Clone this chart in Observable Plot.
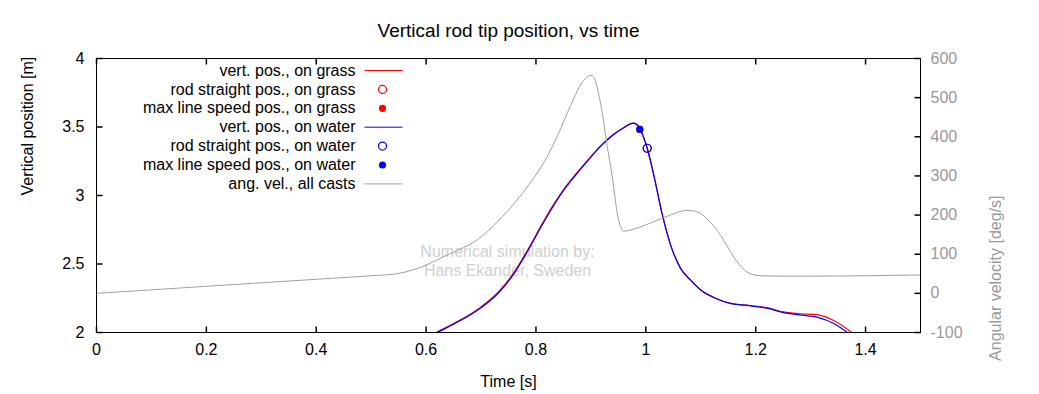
<!DOCTYPE html>
<html><head><meta charset="utf-8">
<script src="https://cdn.jsdelivr.net/npm/d3@7"></script>
<script src="https://cdn.jsdelivr.net/npm/@observablehq/plot@0.6"></script>
<style>body{margin:0;background:#fff} svg{display:block}</style>
</head><body><div id="chart"></div>
<script>
// ---- data ----
const timeWater = [0.610, 0.620, 0.650, 0.700, 0.732, 0.760, 0.790, 0.810, 0.832, 0.850, 0.869, 0.890, 0.918, 0.940, 0.960, 0.977, 0.985, 0.990, 1.0025, 1.015, 1.030, 1.045, 1.063, 1.082, 1.100, 1.130, 1.154, 1.190, 1.220, 1.251, 1.280, 1.313, 1.342, 1.367, 1.375];
const posWater  = [1.978, 2.000, 2.060, 2.180, 2.290, 2.430, 2.630, 2.775, 2.925, 3.035, 3.133, 3.233, 3.360, 3.440, 3.495, 3.528, 3.515, 3.480, 3.345, 3.140, 2.860, 2.640, 2.470, 2.380, 2.310, 2.245, 2.212, 2.195, 2.178, 2.145, 2.128, 2.110, 2.066, 2.000, 1.975];
const timeGrass = [0.610, 0.620, 0.650, 0.700, 0.732, 0.760, 0.790, 0.810, 0.832, 0.850, 0.869, 0.890, 0.918, 0.940, 0.960, 0.977, 0.985, 0.990, 1.0025, 1.015, 1.030, 1.045, 1.063, 1.082, 1.100, 1.130, 1.154, 1.190, 1.220, 1.251, 1.280, 1.313, 1.342, 1.375, 1.383];
const posGrass  = [1.981, 2.003, 2.065, 2.187, 2.298, 2.439, 2.639, 2.784, 2.933, 3.042, 3.139, 3.238, 3.364, 3.443, 3.497, 3.529, 3.515, 3.480, 3.345, 3.140, 2.860, 2.640, 2.470, 2.380, 2.310, 2.245, 2.212, 2.197, 2.182, 2.150, 2.137, 2.128, 2.088, 2.000, 1.975];
const rodStraightTime = [1.0025];
const rodStraightPos  = [3.345];
const maxSpeedTime = [0.989];
const maxSpeedPos  = [3.482];
const timeAngVel = [0, 0.1, 0.2, 0.3, 0.4, 0.5, 0.546, 0.6, 0.631, 0.65, 0.7, 0.73, 0.76, 0.79, 0.82, 0.84, 0.863, 0.881, 0.892, 0.9, 0.908, 0.914, 0.92, 0.929, 0.939, 0.948, 0.954, 0.96, 0.98, 1.0, 1.027, 1.05, 1.075, 1.09, 1.1, 1.115, 1.13, 1.145, 1.16, 1.175, 1.19, 1.21, 1.25, 1.3, 1.4, 1.5];
const angVel     = [0, 9, 18, 27, 36, 45, 50, 72, 93, 105, 144, 183, 229, 283, 348, 405, 480, 532, 552, 557, 544, 510, 467, 382, 297, 205, 170, 159, 165, 175, 190, 203, 212, 210, 204, 185, 161, 128, 93, 66, 50, 45, 44, 44, 45, 47];
const xTicks  = [0, 0.2, 0.4, 0.6, 0.8, 1, 1.2, 1.4];
const yTicks  = [2, 2.5, 3, 3.5, 4];
const y2Ticks = [-100, 0, 100, 200, 300, 400, 500, 600];
const legendLabels = ["vert. pos., on grass", "rod straight pos., on grass", "max line speed pos., on grass",
  "vert. pos., on water", "rod straight pos., on water", "max line speed pos., on water", "ang. vel., all casts"];
const legendKinds  = ["line", "open", "filled", "line", "open", "filled", "line"];
const titleText = "Vertical rod tip position, vs time";
const watermark = "Numerical simulation by:\nHans Ekander, Sweden";

// ---- helpers ----
const Y2MIN = -100, Y2MAX = 600, YMIN = 2, YMAX = 4;
const y2ToY = v => YMIN + (v - Y2MIN) / (Y2MAX - Y2MIN) * (YMAX - YMIN);
const yToY2 = y => Y2MIN + (y - YMIN) / (YMAX - YMIN) * (Y2MAX - Y2MIN);
const RED = "#ff0000", BLUE = "#0000ff", GRAY = "#a0a0a0", GRAYTXT = "#999999";
const FS = 16;
const legendColors = [RED, RED, RED, BLUE, BLUE, BLUE, GRAY];
const segSym = (x1, y1, x2, y2) => ({draw(ctx) { ctx.moveTo(x1, y1); ctx.lineTo(x2, y2); }});

const water = timeWater.map((t, i) => ({t, p: posWater[i]}));
const grass = timeGrass.map((t, i) => ({t, p: posGrass[i]}));
const ang = timeAngVel.map((t, i) => ({t, v: y2ToY(angVel[i])}));
const rodS = rodStraightTime.map((t, i) => ({t, p: rodStraightPos[i]}));
const maxS = maxSpeedTime.map((t, i) => ({t, p: maxSpeedPos[i]}));

const legendMarks = legendLabels.flatMap((label, i) => {
  const dy = 12 + i * 18.9;
  const c = legendColors[i];
  const sample = legendKinds[i] === "line"
    ? Plot.dot([0], {frameAnchor: "top-left", dx: 287, dy, symbol: segSym(-19, 0, 19, 0), stroke: c, fill: "none", strokeWidth: 1})
    : legendKinds[i] === "open"
    ? Plot.dot([0], {frameAnchor: "top-left", dx: 286, dy, r: 4, stroke: c, fill: "none", strokeWidth: 1.2})
    : Plot.dot([0], {frameAnchor: "top-left", dx: 286, dy, r: 3.6, fill: c, stroke: "none"});
  return [Plot.text([label], {frameAnchor: "top-left", dx: 259, dy, textAnchor: "end", lineAnchor: "middle", fontSize: FS, fill: "black"}), sample];
});

const chart = Plot.plot({
  width: 1039, height: 394,
  marginLeft: 96, marginRight: 119, marginTop: 58, marginBottom: 62,
  style: {fontFamily: "'Liberation Sans', Arial, sans-serif", fontSize: "16px", background: "white", overflow: "visible"},
  x: {domain: [0, 1.5]},
  y: {domain: [YMIN, YMAX]},
  marks: [
    Plot.axisX({ticks: xTicks, tickSize: 0, tickPadding: 11, fontSize: FS, tickFormat: d => String(d), label: null}),
    Plot.axisY({ticks: yTicks, tickSize: 0, tickPadding: 12, fontSize: FS, tickFormat: d => String(d), label: null}),
    Plot.axisY({anchor: "right", ticks: y2Ticks.map(y2ToY), tickSize: 0, tickPadding: 10, fontSize: FS, tickFormat: y => String(Math.round(yToY2(y))), label: null, fill: GRAYTXT}),
    // inward ticks
    Plot.dot(xTicks, {x: d => d, frameAnchor: "bottom", symbol: segSym(0, 0, 0, -6), stroke: "black", fill: "none"}),
    Plot.dot(xTicks, {x: d => d, frameAnchor: "top", symbol: segSym(0, 0, 0, 6), stroke: "black", fill: "none"}),
    Plot.dot(yTicks, {y: d => d, frameAnchor: "left", symbol: segSym(0, 0, 6, 0), stroke: "black", fill: "none"}),
    Plot.dot(y2Ticks.map(y2ToY), {y: d => d, frameAnchor: "right", symbol: segSym(0, 0, -6, 0), stroke: "black", fill: "none"}),
    // watermark
    Plot.text([watermark], {frameAnchor: "middle", dx: -1, dy: 64.5, lineAnchor: "middle", lineHeight: 1.19, fontSize: FS, fill: "#d0d0d0"}),
    // data
    Plot.line(grass, {x: "t", y: "p", stroke: RED, strokeWidth: 1.2, curve: "monotone-x", clip: true}),
    Plot.dot(rodS, {x: "t", y: "p", r: 4, stroke: RED, fill: "none", strokeWidth: 1.2}),
    Plot.dot(maxS, {x: "t", y: "p", r: 3.6, fill: RED, stroke: "none"}),
    Plot.line(water, {x: "t", y: "p", stroke: BLUE, strokeWidth: 1.2, curve: "monotone-x", clip: true}),
    Plot.dot(rodS, {x: "t", y: "p", r: 4, stroke: BLUE, fill: "none", strokeWidth: 1.2}),
    Plot.dot(maxS, {x: "t", y: "p", r: 3.6, fill: BLUE, stroke: "none"}),
    Plot.line(ang, {x: "t", y: "v", stroke: GRAY, strokeWidth: 1, curve: "monotone-x", clip: true}),
    // legend
    ...legendMarks,
    // titles
    Plot.text([titleText], {frameAnchor: "top", dy: -28, lineAnchor: "middle", fontSize: 19, fill: "black"}),
    Plot.text(["Time [s]"], {frameAnchor: "bottom", dy: 49, lineAnchor: "middle", fontSize: FS, fill: "black"}),
    Plot.text(["Vertical position [m]"], {frameAnchor: "left", dx: -69, rotate: -90, lineAnchor: "middle", fontSize: FS, fill: "black"}),
    Plot.text(["Angular velocity [deg/s]"], {frameAnchor: "right", dx: 75, rotate: -90, lineAnchor: "middle", fontSize: FS, fill: GRAYTXT}),
    Plot.frame({stroke: "black", strokeWidth: 1})
  ]
});
document.getElementById("chart").appendChild(chart);
</script>
</body></html>
